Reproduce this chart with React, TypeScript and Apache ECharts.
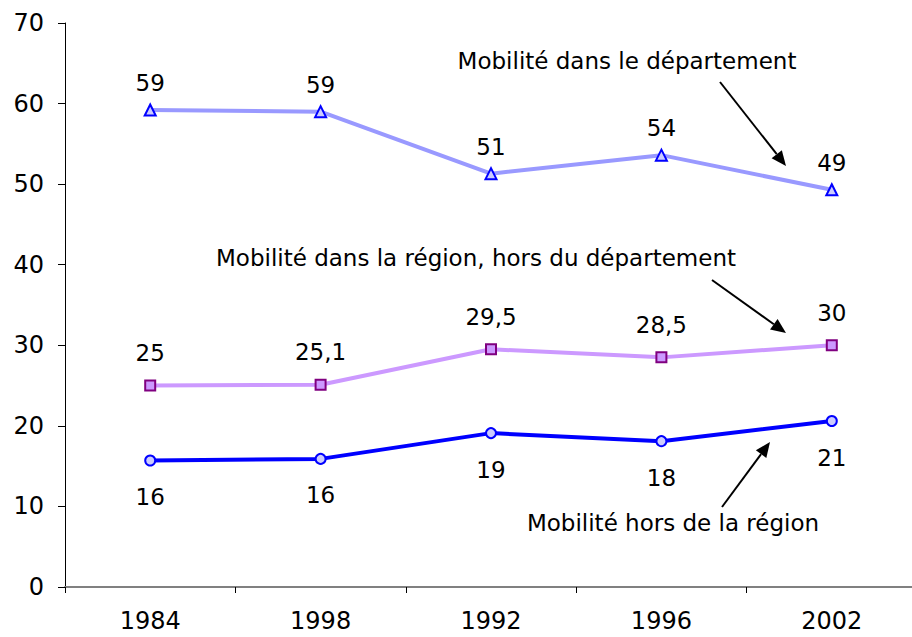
import React, { useEffect, useRef } from "react";
import * as echarts from "echarts";

const categories = ["1984", "1998", "1992", "1996", "2002"];
const deptValues = [59.2, 59.0, 51.3, 53.6, 49.3];
const deptLabels = ["59", "59", "51", "54", "49"];
const regionValues = [25, 25.1, 29.5, 28.5, 30];
const regionLabels = ["25", "25,1", "29,5", "28,5", "30"];
const horsValues = [15.7, 15.9, 19.1, 18.1, 20.6];
const horsLabels = ["16", "16", "19", "18", "21"];
const yTicks = [0, 10, 20, 30, 40, 50, 60, 70];

const FONT = "DejaVu Sans";

function arrow(x1: number, y1: number, x2: number, y2: number) {
  const ang = Math.atan2(y2 - y1, x2 - x1);
  const len = 15;
  const w = 6.5;
  const bx = x2 - len * Math.cos(ang);
  const by = y2 - len * Math.sin(ang);
  const px = -Math.sin(ang) * w;
  const py = Math.cos(ang) * w;
  return [
    { type: "line", shape: { x1, y1, x2: bx, y2: by }, style: { stroke: "#000", lineWidth: 2 } },
    {
      type: "polygon",
      shape: { points: [[x2, y2], [bx + px, by + py], [bx - px, by - py]] },
      style: { fill: "#000" },
    },
  ];
}

function note(text: string, x: number, y: number) {
  return {
    type: "text",
    x,
    y,
    style: {
      text,
      fontFamily: FONT,
      fontSize: 23,
      fill: "#000",
      align: "center",
      verticalAlign: "middle",
    },
  };
}

export default function App() {
  const ref = useRef<HTMLDivElement>(null);
  useEffect(() => {
    if (!ref.current) return;
    const chart = echarts.init(ref.current, null, { renderer: "svg" });
    const labelStyle = { fontFamily: FONT, fontSize: 23, color: "#000" };
    chart.setOption({
      animation: false,
      backgroundColor: "#fff",
      grid: { left: 65, top: 23, width: 852, height: 564, containLabel: false },
      xAxis: {
        type: "category",
        data: categories,
        boundaryGap: true,
        axisLine: { lineStyle: { color: "#808080", width: 2 } },
        axisTick: { show: true, length: 6, inside: false, lineStyle: { color: "#000" } },
        axisLabel: { fontFamily: FONT, fontSize: 24, color: "#000", margin: 22 },
        splitLine: { show: false },
      },
      yAxis: {
        type: "value",
        min: yTicks[0],
        max: yTicks[yTicks.length - 1],
        interval: 10,
        axisLine: { show: true, lineStyle: { color: "#000", width: 1 } },
        axisTick: { show: true, length: 7, lineStyle: { color: "#000" } },
        axisLabel: { fontFamily: FONT, fontSize: 24, color: "#000", margin: 21 },
        splitLine: { show: false },
      },
      series: [
        {
          type: "line",
          name: "Mobilité dans le département",
          data: deptValues,
          lineStyle: { color: "#9999FF", width: 4 },
          symbol: "triangle",
          symbolSize: 11,
          itemStyle: { color: "#CCCCFF", borderColor: "#0000FF", borderWidth: 2 },
          label: {
            show: true,
            position: "top",
            distance: 9,
            ...labelStyle,
            formatter: (p: any) => deptLabels[p.dataIndex],
          },
        },
        {
          type: "line",
          name: "Mobilité dans la région, hors du département",
          data: regionValues,
          lineStyle: { color: "#CC99FF", width: 4 },
          symbol: "rect",
          symbolSize: 10,
          itemStyle: { color: "#CC99FF", borderColor: "#800080", borderWidth: 2 },
          label: {
            show: true,
            position: "top",
            distance: 15,
            ...labelStyle,
            formatter: (p: any) => regionLabels[p.dataIndex],
          },
        },
        {
          type: "line",
          name: "Mobilité hors de la région",
          data: horsValues,
          lineStyle: { color: "#0000FF", width: 4 },
          symbol: "circle",
          symbolSize: 10,
          itemStyle: { color: "#CCCCFF", borderColor: "#0000FF", borderWidth: 2 },
          label: {
            show: true,
            position: "bottom",
            distance: 19,
            ...labelStyle,
            formatter: (p: any) => horsLabels[p.dataIndex],
          },
        },
      ],
      graphic: [
        note("Mobilité dans le département", 627, 61),
        note("Mobilité dans la région, hors du département", 476, 258),
        note("Mobilité hors de la région", 673, 523),
        ...arrow(720, 82, 786, 166),
        ...arrow(712, 280, 786, 333),
        ...arrow(722, 507, 770, 442),
      ],
    });
    return () => chart.dispose();
  }, []);
  return (
    <div
      ref={ref}
      style={{ position: "fixed", left: 0, top: 0, width: 920, height: 637 }}
    />
  );
}
